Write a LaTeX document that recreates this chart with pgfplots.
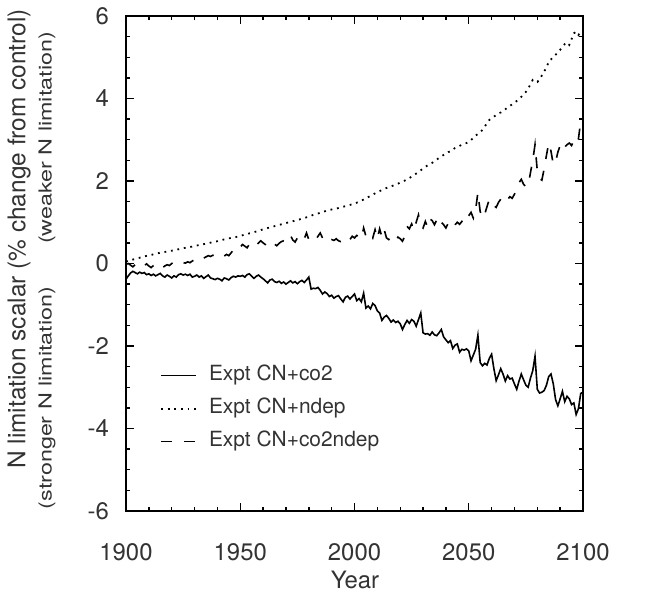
\documentclass[border=0pt]{standalone}
\usepackage{fontspec}
\setmainfont{TeX Gyre Heros}
\usepackage{pgfplots}
\pgfplotsset{compat=1.18}
\usepackage{pgfplotstable}
\definecolor{txt}{gray}{0.2}

\pgfplotstableread{
year val
1900 -0.38
1901 -0.30
1902 -0.23
1903 -0.19
1904 -0.22
1905 -0.25
1906 -0.21
1907 -0.24
1908 -0.22
1909 -0.27
1910 -0.25
1911 -0.29
1912 -0.26
1913 -0.30
1914 -0.27
1915 -0.24
1916 -0.30
1917 -0.33
1918 -0.28
1919 -0.31
1920 -0.35
1921 -0.30
1922 -0.33
1923 -0.27
1924 -0.25
1925 -0.28
1926 -0.26
1927 -0.29
1928 -0.26
1929 -0.33
1930 -0.31
1931 -0.28
1932 -0.33
1933 -0.30
1934 -0.36
1935 -0.32
1936 -0.28
1937 -0.35
1938 -0.37
1939 -0.39
1940 -0.36
1941 -0.38
1942 -0.42
1943 -0.35
1944 -0.37
1945 -0.40
1946 -0.34
1947 -0.31
1948 -0.33
1949 -0.30
1950 -0.31
1951 -0.29
1952 -0.33
1953 -0.27
1954 -0.25
1955 -0.31
1956 -0.36
1957 -0.31
1958 -0.28
1959 -0.33
1960 -0.37
1961 -0.42
1962 -0.47
1963 -0.40
1964 -0.38
1965 -0.44
1966 -0.46
1967 -0.43
1968 -0.48
1969 -0.45
1970 -0.50
1971 -0.46
1972 -0.42
1973 -0.47
1974 -0.44
1975 -0.49
1976 -0.44
1977 -0.41
1978 -0.46
1979 -0.40
1980 -0.33
1981 -0.62
1982 -0.60
1983 -0.61
1984 -0.58
1985 -0.65
1986 -0.74
1987 -0.69
1988 -0.73
1989 -0.80
1990 -0.77
1991 -0.84
1992 -0.80
1993 -0.78
1994 -0.86
1995 -0.93
1996 -0.82
1997 -0.79
1998 -0.86
1999 -0.80
2000 -0.74
2001 -0.90
2002 -0.85
2003 -0.93
2004 -0.72
2005 -1.08
2006 -1.03
2007 -1.10
2008 -0.97
2009 -1.02
2010 -1.15
2011 -1.20
2012 -1.38
2013 -1.30
2014 -1.26
2015 -1.33
2016 -1.42
2017 -1.37
2018 -1.43
2019 -1.40
2020 -1.46
2021 -1.60
2022 -1.48
2023 -1.38
2024 -1.45
2025 -1.36
2026 -1.40
2027 -1.52
2028 -1.36
2029 -1.20
2030 -1.68
2031 -1.71
2032 -1.70
2033 -1.74
2034 -1.66
2035 -1.73
2036 -1.75
2037 -1.68
2038 -1.60
2039 -1.78
2040 -1.85
2041 -1.92
2042 -1.87
2043 -2.06
2044 -1.98
2045 -1.95
2046 -2.15
2047 -2.08
2048 -2.10
2049 -2.07
2050 -2.12
2051 -2.36
2052 -2.22
2053 -2.08
2054 -1.74
2055 -2.40
2056 -2.48
2057 -2.42
2058 -2.46
2059 -2.30
2060 -2.20
2061 -2.55
2062 -2.84
2063 -2.70
2064 -2.55
2065 -2.68
2066 -2.85
2067 -2.72
2068 -2.80
2069 -2.78
2070 -2.92
2071 -3.05
2072 -2.85
2073 -2.68
2074 -2.82
2075 -2.95
2076 -3.00
2077 -2.78
2078 -2.60
2079 -2.25
2080 -3.05
2081 -3.14
2082 -3.12
2083 -3.08
2084 -2.95
2085 -2.74
2086 -2.68
2087 -2.92
2088 -3.30
2089 -3.45
2090 -3.28
2091 -3.10
2092 -3.35
2093 -3.22
2094 -3.28
2095 -3.42
2096 -3.38
2097 -3.66
2098 -3.52
2099 -3.15
2100 -3.12
}\coco

\pgfplotstableread{
year val
1900 0.05
1902 0.08
1904 0.11
1906 0.14
1908 0.17
1910 0.20
1912 0.22
1914 0.25
1916 0.27
1918 0.29
1920 0.31
1922 0.33
1924 0.36
1926 0.38
1928 0.40
1930 0.42
1932 0.45
1934 0.47
1936 0.49
1938 0.52
1940 0.54
1942 0.57
1944 0.60
1946 0.62
1948 0.64
1950 0.67
1952 0.70
1954 0.73
1956 0.76
1958 0.79
1960 0.83
1962 0.86
1964 0.89
1966 0.92
1968 0.95
1970 0.98
1972 1.01
1974 1.04
1976 1.07
1978 1.10
1980 1.14
1982 1.18
1984 1.21
1986 1.25
1988 1.28
1990 1.31
1992 1.33
1994 1.36
1996 1.39
1998 1.42
2000 1.45
2002 1.50
2004 1.55
2006 1.61
2008 1.67
2010 1.73
2012 1.78
2014 1.83
2016 1.87
2018 1.91
2020 1.96
2022 2.01
2024 2.07
2026 2.14
2028 2.22
2030 2.30
2032 2.38
2034 2.44
2036 2.52
2038 2.60
2040 2.66
2041 2.70
2042 2.72
2043 2.76
2044 2.80
2045 2.82
2046 2.85
2047 2.88
2048 2.90
2049 2.92
2050 2.95
2051 2.99
2052 3.05
2053 3.10
2054 3.14
2055 3.18
2056 3.24
2057 3.32
2058 3.40
2059 3.48
2060 3.52
2061 3.56
2062 3.60
2063 3.64
2064 3.66
2065 3.70
2066 3.74
2067 3.78
2068 3.82
2069 3.86
2070 3.90
2071 3.94
2072 3.98
2073 4.04
2074 4.10
2075 4.16
2076 4.24
2077 4.34
2078 4.45
2079 4.42
2080 4.40
2081 4.46
2082 4.56
2083 4.66
2084 4.74
2085 4.90
2086 4.95
2087 5.00
2088 5.06
2089 5.12
2090 5.18
2091 5.24
2092 5.32
2093 5.36
2094 5.30
2095 5.44
2096 5.58
2097 5.62
2098 5.54
2099 5.62
2100 5.58
}\ndep

\pgfplotstableread{
year val
1900 -0.02
1901 0.00
1902 -0.04
1903 -0.08
1904 -0.03
1905 -0.06
1906 -0.02
1907 -0.07
1908 -0.05
1909 -0.01
1910 -0.06
1911 -0.10
1912 -0.05
1913 -0.02
1914 -0.08
1915 -0.12
1916 -0.10
1917 -0.06
1918 -0.03
1919 -0.05
1920 0.00
1921 0.03
1922 0.01
1923 0.02
1924 0.05
1925 0.02
1926 0.01
1927 0.04
1928 0.02
1929 0.06
1930 0.09
1931 0.07
1932 0.12
1933 0.15
1934 0.13
1935 0.16
1936 0.19
1937 0.17
1938 0.20
1939 0.18
1940 0.21
1941 0.24
1942 0.20
1943 0.18
1944 0.22
1945 0.19
1946 0.26
1947 0.32
1948 0.38
1949 0.44
1950 0.40
1951 0.46
1952 0.42
1953 0.38
1954 0.47
1955 0.52
1956 0.48
1957 0.44
1958 0.50
1959 0.55
1960 0.50
1961 0.46
1962 0.40
1963 0.45
1964 0.50
1965 0.47
1966 0.43
1967 0.49
1968 0.53
1969 0.55
1970 0.52
1971 0.58
1972 0.68
1973 0.57
1974 0.52
1975 0.62
1976 0.70
1977 0.64
1978 0.60
1979 0.74
1980 0.58
1981 0.55
1982 0.60
1983 0.57
1984 0.66
1985 0.74
1986 0.62
1987 0.60
1988 0.63
1989 0.54
1990 0.58
1991 0.56
1992 0.60
1993 0.55
1994 0.53
1995 0.55
1996 0.60
1997 0.64
1998 0.58
1999 0.66
2000 0.62
2001 0.68
2002 0.64
2003 0.60
2004 0.86
2005 0.66
2006 0.64
2007 0.72
2008 0.62
2009 0.82
2010 0.60
2011 0.84
2012 0.64
2013 0.82
2014 0.62
2015 0.58
2016 0.66
2017 0.60
2018 0.56
2019 0.64
2020 0.60
2021 0.54
2022 0.66
2023 0.90
2024 0.84
2025 0.96
2026 0.80
2027 1.00
2028 1.18
2029 0.92
2030 0.86
2031 1.02
2032 0.88
2033 1.08
2034 1.04
2035 0.94
2036 1.06
2037 0.92
2038 1.00
2039 0.94
2040 0.86
2041 0.98
2042 0.90
2043 0.86
2044 0.94
2045 1.00
2046 0.95
2047 1.02
2048 0.96
2049 1.10
2050 1.16
2051 1.24
2052 1.10
2053 1.30
2054 1.72
2055 1.26
2056 1.10
2057 1.20
2058 1.38
2059 1.56
2060 1.48
2061 1.40
2062 1.36
2063 1.48
2064 1.56
2065 1.50
2066 1.46
2067 1.55
2068 1.62
2069 1.58
2070 1.68
2071 1.80
2072 1.96
2073 2.04
2074 1.92
2075 1.86
2076 1.88
2077 2.20
2078 2.50
2079 2.88
2080 2.24
2081 2.06
2082 2.02
2083 2.30
2084 2.62
2085 2.92
2086 2.72
2087 2.40
2088 2.46
2089 2.70
2090 2.86
2091 2.74
2092 2.82
2093 2.88
2094 2.92
2095 2.86
2096 2.98
2097 2.90
2098 3.02
2099 3.45
2100 3.55
}\coboth

\begin{document}
\begin{tikzpicture}
\useasboundingbox (-126bp,-85bp) rectangle (519bp,511bp);
\begin{axis}[
  scale only axis, width=457bp, height=495bp,
  xmin=1900, xmax=2100, ymin=-6, ymax=6,
  xtick={1900,1950,2000,2050,2100}, ytick={-6,-4,-2,0,2,4,6},
  minor x tick num=4, minor y tick num=3,
  tick align=inside, xtick pos=both, ytick pos=both,
  major tick length=8bp, minor tick length=4bp,
  axis line style={line width=1.6bp},
  every tick/.append style={black, line width=1.4bp},
  tick label style={font=\fontsize{24}{28}\selectfont, text=txt},
  /pgf/number format/assume math mode=true,
  /pgf/number format/1000 sep={},
  xticklabel style={inner sep=0pt, anchor=north, yshift=-32bp},
  yticklabel style={inner sep=0pt, anchor=east, xshift=-17bp},
  legend cell align=left,
  legend style={at={(0.0744,0.292)}, anchor=north west, draw=none, fill=none,
    font=\fontsize{21}{25}\selectfont, text=txt, inner sep=0pt,
    row sep=15bp, column sep=12bp,
    nodes={inner sep=0pt, text height=14bp, text depth=4bp}},
  legend image code/.code={\draw[#1] (0bp,0bp) -- (35bp,0bp);},
]
\addplot[black, line width=1.6bp] table[x=year, y=val] {\coco};
\addlegendentry{Expt CN+co2}
\addplot[black, line width=1.8bp, dash pattern=on 1.8bp off 4.8bp] table[x=year, y=val] {\ndep};
\addlegendentry{Expt CN+ndep}
\addplot[black, line width=1.6bp, dash pattern=on 11bp off 12bp] table[x=year, y=val] {\coboth};
\addlegendentry{Expt CN+co2ndep}
\end{axis}
\node[rotate=90, font=\fontsize{24.5}{28}\selectfont, text=txt] at (-107bp,272bp) {N limitation scalar (\% change from control)};
\node[rotate=90, font=\fontsize{18}{21}\selectfont, text=txt] at (-79bp,373bp) {\scalebox{1.3}[1]{(weaker N limitation)}};
\node[rotate=90, font=\fontsize{18}{21}\selectfont, text=txt] at (-79bp,113bp) {\scalebox{1.3}[1]{(stronger N limitation)}};
\node[font=\fontsize{24}{28}\selectfont, text=txt] at (229bp,-69bp) {Year};
\end{tikzpicture}
\end{document}
